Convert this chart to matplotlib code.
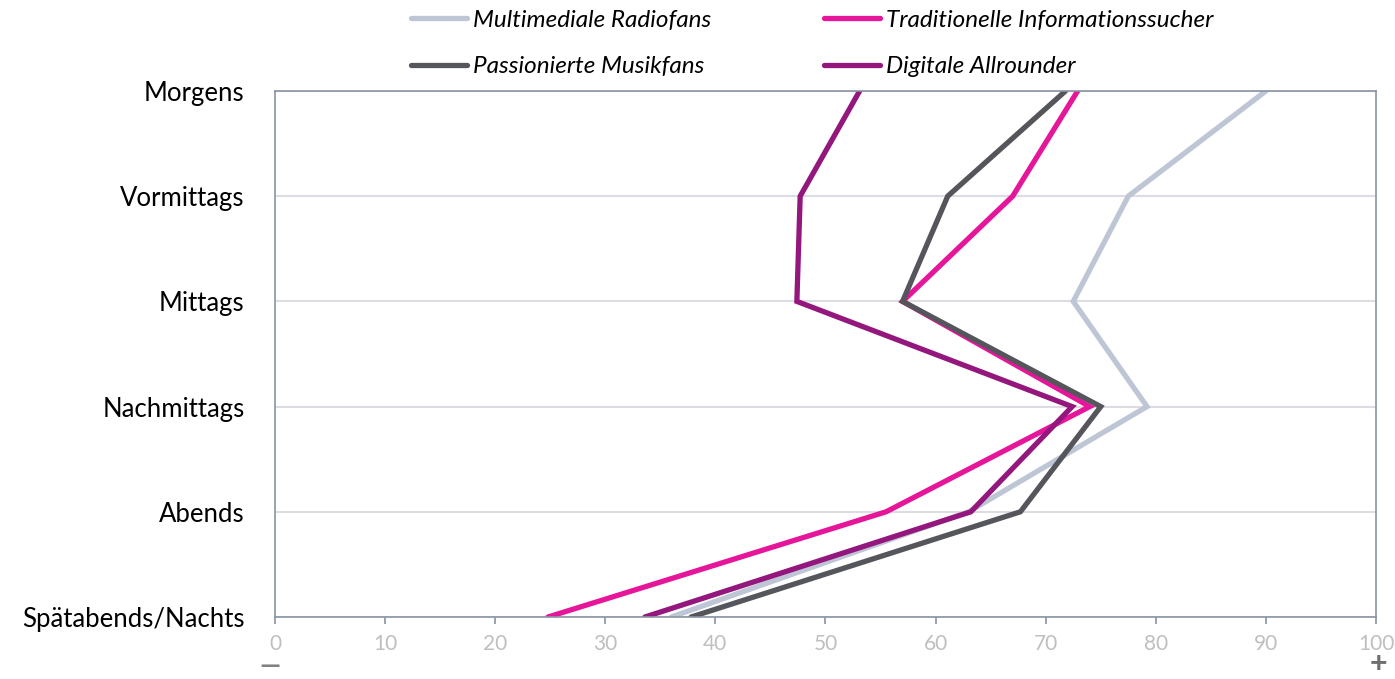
import matplotlib.pyplot as plt
import numpy as np

# Tageszeiten, von oben (Morgens) nach unten
zeiten = ['Morgens', 'Vormittags', 'Mittags', 'Nachmittags', 'Abends', 'Spätabends/Nachts']

multimediale = [90.0, 77.5, 72.5, 79.2, 63.0, 36.0]
traditionelle = [72.9, 67.0, 57.0, 74.0, 55.5, 24.8]
passionierte = [71.8, 61.1, 57.0, 75.0, 67.7, 37.8]
digitale = [53.1, 47.7, 47.4, 72.4, 63.2, 33.6]

serien = [
    ('Multimediale Radiofans', multimediale, '#bec5d4'),
    ('Traditionelle Informationssucher', traditionelle, '#e5169a'),
    ('Passionierte Musikfans', passionierte, '#55565c'),
    ('Digitale Allrounder', digitale, '#93177d'),
]

plt.rcParams['font.family'] = ['Lato', 'DejaVu Sans']

fig = plt.figure(figsize=(13.95, 6.79), dpi=100)
ax = fig.add_axes([0.1971, 0.0913, 0.7893, 0.7747])

ypos = np.arange(len(zeiten))[::-1]
handles = {}
for name, vals, col in serien:
    h, = ax.plot(vals, ypos, color=col, lw=3.8, solid_capstyle='round',
                 solid_joinstyle='miter', label=name)
    handles[name] = h

ax.set_xlim(0, 100)
ax.set_ylim(0, len(zeiten) - 1)
ax.set_xticks(np.arange(0, 101, 10))
ax.set_yticks(ypos)
ax.set_yticklabels(zeiten, fontsize=18.5, color='black')
ax.tick_params(axis='y', length=0, pad=22)
ax.tick_params(axis='x', colors='#8a93a3', length=5, width=1.2, labelsize=15,
               labelcolor='#bfbfbf', pad=7)
for y in ypos:
    ax.axhline(y, color='#dcdce2', lw=1.5, zorder=0)
for s in ax.spines.values():
    s.set_color('#8a93a3')
    s.set_linewidth(1.2)

order = ['Multimediale Radiofans', 'Passionierte Musikfans',
         'Traditionelle Informationssucher', 'Digitale Allrounder']
fig.legend([handles[n] for n in order], order, ncol=2, loc='upper left',
           bbox_to_anchor=(0.279, 1.018), frameon=False, handlelength=2.3,
           handletextpad=0.25, columnspacing=4.65, labelspacing=1.05,
           prop={'size': 17.5, 'style': 'italic'})

# Skalenenden: minus links, plus rechts
fig.text(0.1935, 0.001, '\u2014', fontsize=19, color='#808080', fontweight='bold',
         ha='center', va='bottom')
fig.text(0.988, 0.001, '+', fontsize=22, color='#707070', fontweight='bold',
         ha='center', va='bottom')

fig.savefig('out.png', dpi=100)
